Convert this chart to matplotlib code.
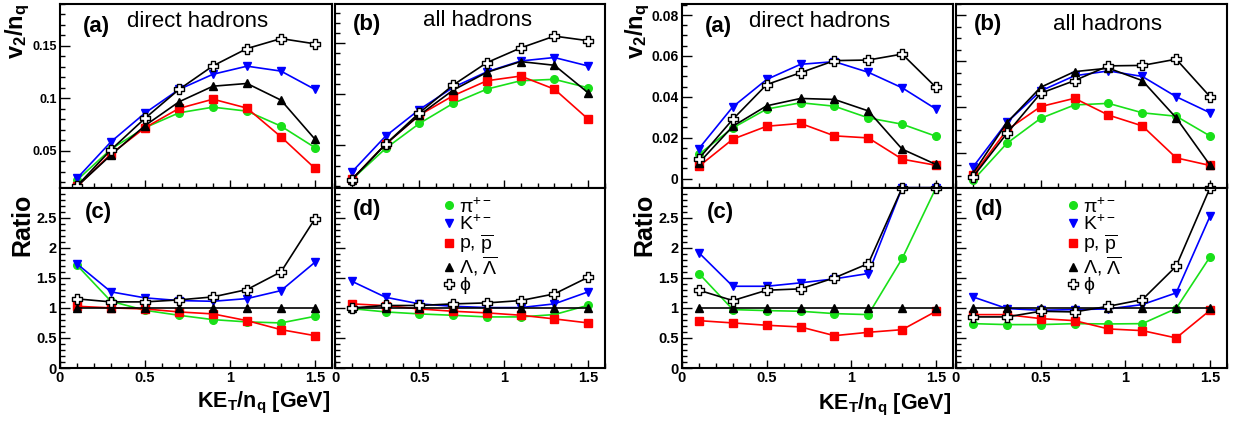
import numpy as np
import matplotlib
matplotlib.use('Agg')
from matplotlib import pyplot as plt
from matplotlib.path import Path
from matplotlib.lines import Line2D
from matplotlib.ticker import MultipleLocator, FuncFormatter

plt.rcParams['font.family'] = ['Liberation Sans', 'DejaVu Sans']
plt.rcParams['mathtext.fontset'] = 'custom'
plt.rcParams['mathtext.rm'] = 'Liberation Sans'
plt.rcParams['mathtext.it'] = 'Liberation Sans:italic'
plt.rcParams['mathtext.bf'] = 'Liberation Sans:bold'

ke = [0.1, 0.3, 0.5, 0.7, 0.9, 1.1, 1.3, 1.5]

# ---- left set: v2/nq ----
# (a) direct hadrons
la_pi = [0.022, 0.0516, 0.072, 0.0862, 0.0916, 0.0878, 0.0735, 0.053]
la_k = [0.0237, 0.0586, 0.086, 0.1085, 0.123, 0.1307, 0.126, 0.1085]
la_p = [0.016, 0.047, 0.072, 0.0904, 0.0992, 0.0907, 0.0633, 0.0332]
la_lam = [0.016, 0.046, 0.074, 0.0967, 0.1116, 0.1142, 0.0983, 0.061]
la_phi = [0.0165, 0.051, 0.081, 0.1085, 0.131, 0.1475, 0.157, 0.152]
# (b) all hadrons
lb_pi = [0.0163, 0.0468, 0.0713, 0.091, 0.105, 0.1132, 0.1146, 0.1063]
lb_k = [0.0237, 0.0589, 0.085, 0.1067, 0.122, 0.1326, 0.136, 0.1277]
lb_p = [0.0165, 0.051, 0.0795, 0.0985, 0.1132, 0.1178, 0.105, 0.0756]
lb_lam = [0.0163, 0.051, 0.0795, 0.104, 0.1215, 0.132, 0.1284, 0.1014]
lb_phi = [0.0163, 0.051, 0.0818, 0.109, 0.131, 0.1454, 0.157, 0.1525]
# (c) ratio, direct
lc_pi = [1.71, 1.11, 0.96, 0.877, 0.805, 0.767, 0.75, 0.86]
lc_k = [1.733, 1.267, 1.167, 1.122, 1.11, 1.155, 1.288, 1.76]
lc_p = [1.027, 1.0, 0.983, 0.933, 0.9, 0.788, 0.638, 0.538]
lc_lam = [1, 1, 1, 1, 1, 1, 1, 1]
lc_phi = [1.15, 1.1, 1.1, 1.133, 1.183, 1.305, 1.6, 2.483]
# (d) ratio, all
ld_pi = [0.988, 0.933, 0.9, 0.877, 0.85, 0.85, 0.889, 1.044]
ld_k = [1.443, 1.177, 1.067, 1.027, 1.005, 1.005, 1.067, 1.267]
ld_p = [1.067, 1.038, 0.983, 0.944, 0.917, 0.878, 0.817, 0.75]
ld_lam = [1, 1, 1, 1, 1, 1, 1, 1]
ld_phi = [1.0, 1.04, 1.04, 1.067, 1.083, 1.122, 1.233, 1.51]

# ---- right set: v2/nq ----
ra_pi = [0.0119, 0.0248, 0.034, 0.0371, 0.0354, 0.0297, 0.0266, 0.0207]
ra_k = [0.0147, 0.0351, 0.0485, 0.0559, 0.0572, 0.052, 0.0444, 0.034]
ra_p = [0.006, 0.0193, 0.0256, 0.027, 0.0209, 0.0199, 0.0095, 0.0065]
ra_lam = [0.0077, 0.0256, 0.0356, 0.0392, 0.0387, 0.0331, 0.0144, 0.0069]
ra_phi = [0.0098, 0.029, 0.046, 0.0518, 0.0577, 0.058, 0.0609, 0.0446]
rb_pi = [0.0083, 0.0244, 0.0353, 0.0411, 0.0418, 0.0377, 0.0362, 0.0276]
rb_k = [0.0141, 0.0335, 0.0472, 0.0538, 0.0559, 0.0535, 0.0447, 0.0377]
rb_p = [0.0105, 0.0302, 0.0404, 0.044, 0.0367, 0.032, 0.0181, 0.0148]
rb_lam = [0.0113, 0.0334, 0.0488, 0.0556, 0.0571, 0.0517, 0.0355, 0.0149]
rb_phi = [0.0098, 0.0287, 0.0462, 0.0517, 0.0581, 0.0583, 0.061, 0.0447]
rc_pi = [1.572, 0.972, 0.955, 0.944, 0.905, 0.888, 1.822, 3.0]
rc_k = [1.917, 1.36, 1.36, 1.417, 1.483, 1.572, 3.0, 3.0]
rc_p = [0.788, 0.75, 0.711, 0.683, 0.538, 0.594, 0.638, 0.944]
rc_lam = [1, 1, 1, 1, 1, 1, 1, 1]
rc_phi = [1.294, 1.122, 1.294, 1.317, 1.5, 1.738, 3.0, 3.0]
rd_pi = [0.738, 0.722, 0.722, 0.738, 0.733, 0.738, 0.99, 1.85]
rd_k = [1.183, 0.99, 0.96, 0.972, 0.983, 1.055, 1.25, 2.527]
rd_p = [0.888, 0.888, 0.822, 0.788, 0.65, 0.622, 0.5, 0.96]
rd_lam = [1, 1, 1, 1, 1, 1, 1, 1]
rd_phi = [0.85, 0.85, 0.944, 0.933, 1.027, 1.138, 1.694, 3.0]

labels = ['π$^{+-}$', 'K$^{+-}$', r'p, $\overline{\rm p}$',
          r'Λ, $\overline{\Lambda}$', 'ϕ']

W, H = 1238, 421


def box(x0, y0, x1, y1):
    return [x0 / W, 1 - y1 / H, (x1 - x0) / W, (y1 - y0) / H]


# open cross marker (ROOT style 28)
a = 0.33
cross = Path([(-a, 1), (a, 1), (a, a), (1, a), (1, -a), (a, -a), (a, -1),
              (-a, -1), (-a, -a), (-1, -a), (-1, a), (-a, a), (-a, 1)],
             [Path.MOVETO] + [Path.LINETO] * 11 + [Path.CLOSEPOLY])

green = '#19e019'
styles = [dict(color=green, marker='o', ms=5.5, mfc=green, mec=green),
          dict(color='#0000ff', marker='v', ms=6, mfc='#0000ff', mec='#0000ff'),
          dict(color='#ff0000', marker='s', ms=5.2, mfc='#ff0000', mec='#ff0000'),
          dict(color='black', marker='^', ms=5.5, mfc='black', mec='black'),
          dict(color='black', marker=cross, ms=7, mfc='white', mec='black', mew=1.0)]

fmt = FuncFormatter(lambda v, p: '%g' % round(v, 4))

fig = plt.figure(figsize=(W / 100, H / 100), dpi=100)


def panel(rect, series, ylim, ymaj, ymin, ylab, xlab, tsize, tag, title=None,
          tagpos=(0.08, 0.88), titlepos=(0.25, 0.91), legend=None, clip=True):
    ax = fig.add_axes(rect)
    for s, st in zip(series, styles):
        ax.plot(ke, s, lw=1.2, clip_on=clip, **st)
    ax.set_xlim(0, 1.6)
    ax.set_ylim(*ylim)
    ax.xaxis.set_major_locator(MultipleLocator(0.5))
    ax.xaxis.set_minor_locator(MultipleLocator(0.1))
    ax.yaxis.set_major_locator(MultipleLocator(ymaj))
    ax.yaxis.set_minor_locator(MultipleLocator(ymin))
    ax.xaxis.set_major_formatter(fmt)
    ax.yaxis.set_major_formatter(fmt)
    ax.tick_params(which='both', direction='in', top=False, right=False,
                   labelsize=tsize, pad=2.5)
    ax.tick_params(axis='y', which='major', length=7, width=1)
    ax.tick_params(axis='y', which='minor', length=3.5, width=1)
    ax.tick_params(axis='x', which='major', length=6, width=1)
    ax.tick_params(axis='x', which='minor', length=3.5, width=1)
    if not ylab:
        ax.tick_params(axis='y', labelleft=False)
    if not xlab:
        ax.tick_params(axis='x', labelbottom=False)
    for lb in ax.get_xticklabels() + ax.get_yticklabels():
        lb.set_fontweight('bold')
    for sp in ax.spines.values():
        sp.set_linewidth(1.5)
    ax.text(tagpos[0], tagpos[1], tag, transform=ax.transAxes, fontsize=16,
            fontweight='bold', ha='left', va='center')
    if title:
        ax.text(titlepos[0], titlepos[1], title, transform=ax.transAxes,
                fontsize=16, ha='left', va='center')
    if legend:
        handles = [Line2D([], [], ls='none', **st) for st in styles]
        ax.legend(handles, labels, loc='upper left', bbox_to_anchor=legend,
                  frameon=False, fontsize=14, handlelength=0.5,
                  handletextpad=0.25, labelspacing=-0.08, borderpad=0,
                  borderaxespad=0)
    return ax


for g, (x0, x1, x2, x3) in enumerate([(60, 332, 335, 605), (682, 953, 956, 1227)]):
    if g == 0:
        top_a = [la_pi, la_k, la_p, la_lam, la_phi]
        top_b = [lb_pi, lb_k, lb_p, lb_lam, lb_phi]
        bot_c = [lc_pi, lc_k, lc_p, lc_lam, lc_phi]
        bot_d = [ld_pi, ld_k, ld_p, ld_lam, ld_phi]
        ya, yb, ymaj, ymin, tsz = (0.0145, 0.19), (0.008, 0.1885), 0.05, 0.01, 9
    else:
        top_a = [ra_pi, ra_k, ra_p, ra_lam, ra_phi]
        top_b = [rb_pi, rb_k, rb_p, rb_lam, rb_phi]
        bot_c = [rc_pi, rc_k, rc_p, rc_lam, rc_phi]
        bot_d = [rd_pi, rd_k, rd_p, rd_lam, rd_phi]
        ya, yb, ymaj, ymin, tsz = (-0.0046, 0.0854), (0.005, 0.085), 0.02, 0.005, 10
    panel(box(x0, 4, x1, 188), top_a, ya, ymaj, ymin, True, False, tsz, '(a)',
          'direct hadrons', tagpos=(0.085, 0.88), titlepos=(0.247, 0.905))
    panel(box(x2, 4, x3, 188), top_b, yb, ymaj, ymin, False, False, tsz, '(b)',
          'all hadrons', tagpos=(0.065, 0.886),
          titlepos=((0.326, 0.913) if g == 0 else (0.358, 0.89)))
    panel(box(x0, 188, x1, 368), bot_c, (0, 2.995), 0.5, 0.1, True, True, 10.5,
          '(c)', tagpos=(0.09, 0.865), clip=False)
    panel(box(x2, 188, x3, 368), bot_d, (0, 2.995), 0.5, 0.1, False, True, 10.5,
          '(d)', tagpos=(0.068, 0.878), clip=False,
          legend=((0.405, 0.95) if g == 0 else (0.415, 0.95)))
    fig.text((x0 - (42 if g == 0 else 44)) / W, 1 - 4 / H, r'$\mathbf{v_2/n_q}$',
             rotation=90, fontsize=17, ha='center', va='top')
    fig.text((x0 - 38) / W, 1 - 194 / H, 'Ratio', rotation=90, fontsize=18,
             fontweight='bold', ha='center', va='top')
    fig.text((x1 - 2) / W, 1 - (403 + 2 * g) / H, r'$\mathbf{KE_T/n_q}$ [GeV]',
             fontsize=15.5, fontweight='bold', ha='right', va='center')

fig.savefig('out.png', dpi=100)
